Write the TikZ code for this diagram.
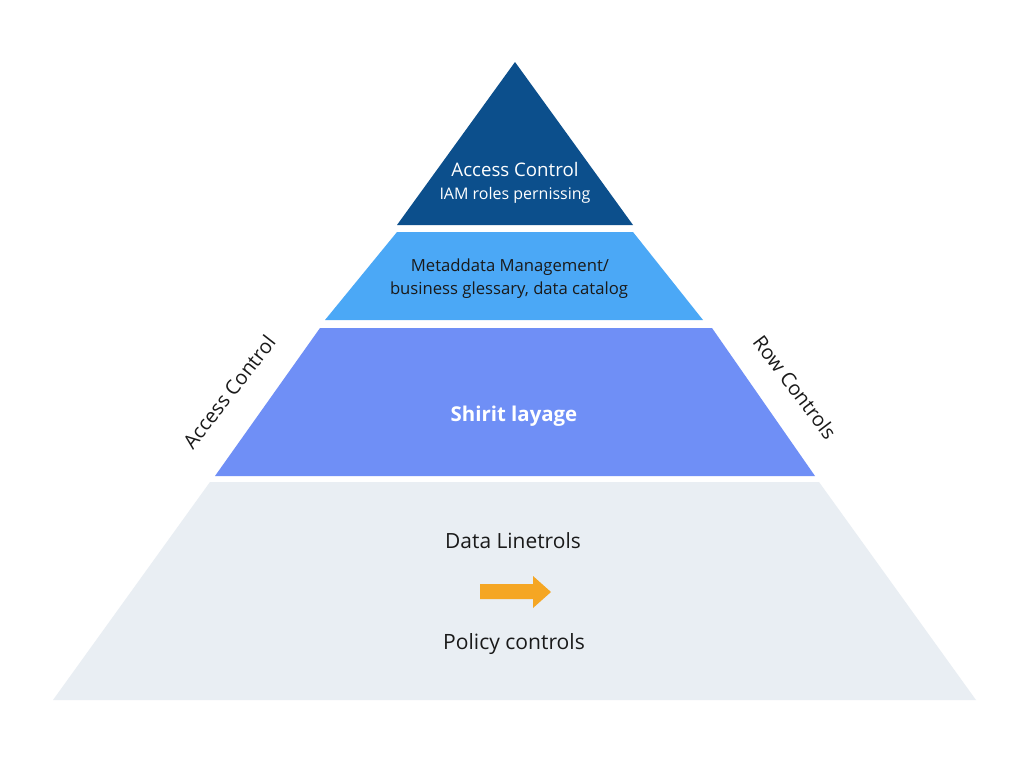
\documentclass[tikz,border=0pt]{standalone}
\usepackage{fontspec}
\setmainfont{Open Sans}
\definecolor{tierA}{HTML}{0C4F8C}
\definecolor{tierB}{HTML}{4BA8F6}
\definecolor{tierC}{HTML}{6F8FF6}
\definecolor{tierD}{HTML}{E9EEF3}
\definecolor{arrowC}{HTML}{F5A623}
\definecolor{inkC}{HTML}{1A1A1A}
\tikzset{
  tier/.style={draw=none},
  lbl/.style={inner sep=0pt, align=center, font=\fontsize{12.5}{15}\selectfont, text=inkC},
  sidelbl/.style={inner sep=0pt, font=\fontsize{15}{18}\selectfont, text=inkC}
}
\begin{document}
\begin{tikzpicture}[x=0.75pt,y=-0.75pt]
\useasboundingbox[fill=white] (0,0) rectangle (1024,768);
% tiers
\fill[tierA] (515,62) -- (633,225) -- (397,225) -- cycle;
\fill[tierB] (397,232) -- (633,232) -- (703,320) -- (325,320) -- cycle;
\fill[tierC] (320,328) -- (712,328) -- (815,476) -- (215,476) -- cycle;
\fill[tierD] (210,482) -- (819,482) -- (976,700) -- (53,700) -- cycle;
% texts
\node[lbl, text=white, font=\fontsize{14}{16}\selectfont] (t1) at (515,169) {Access Control};
\node[lbl, text=white, font=\fontsize{12}{15}\selectfont] (t1b) at (515,195) {IAM roles pernissing};
\node[lbl] (t2a) at (510,267) {Metaddata Management/};
\node[lbl] (t2b) at (509,290) {business glessary, data catalog};
\node[lbl, text=white, font=\fontsize{15.3}{18}\bfseries\selectfont] (t3) at (514,416) {Shirit layage};
\node[lbl, font=\fontsize{15.7}{18}\selectfont] (t4a) at (513,541) {Data Linetrols};
\node[lbl, font=\fontsize{15.8}{18}\selectfont] (t4b) at (514,644) {Policy controls};
\node[sidelbl, rotate=52] (sl) at (229,392) {Access Control};
\node[sidelbl, rotate=-53] (sr) at (795,387) {Row Controls};
% arrow
\fill[arrowC] (480,584) -- (533,584) -- (533,576) -- (551,592) -- (533,608) -- (533,599) -- (480,599) -- cycle;
\end{tikzpicture}
\end{document}
